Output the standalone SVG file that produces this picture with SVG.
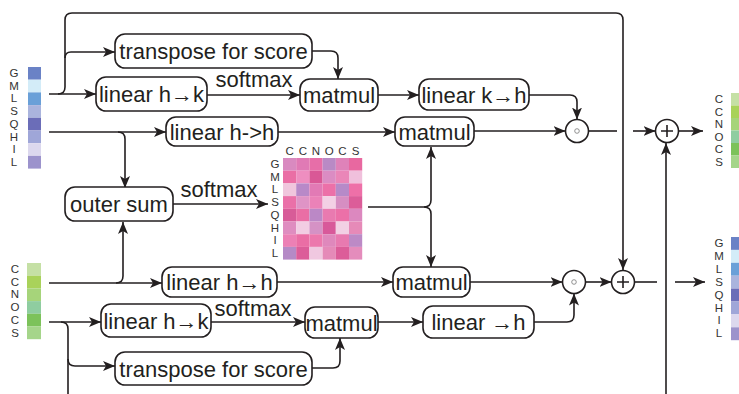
<svg xmlns="http://www.w3.org/2000/svg" width="739" height="394" viewBox="0 0 739 394">
<defs>
<marker id="ah" viewBox="0 0 12 10" refX="12" refY="5" markerWidth="12" markerHeight="10" markerUnits="userSpaceOnUse" orient="auto">
<path d="M0,0 L12,5 L0,10 L3,5 z" fill="#231f20"/>
</marker>
</defs>
<style>
.box{fill:#fff;stroke:#231f20;stroke-width:1.6}
.lbl{font-family:"Liberation Sans",Arial,sans-serif;font-size:22px;fill:#231f20;text-anchor:middle}
.sm{font-family:"Liberation Sans",Arial,sans-serif;font-size:11.5px;fill:#333;text-anchor:middle}
.ln{fill:none;stroke:#231f20;stroke-width:1.6}
.ar{fill:none;stroke:#231f20;stroke-width:1.6;marker-end:url(#ah)}
.op{fill:#fff;stroke:#231f20;stroke-width:1.6}
.dot{fill:none;stroke:#777;stroke-width:0.8}
</style>
<rect width="739" height="394" fill="#fff"/>

<!-- input bars -->
<g id="input-top">
<rect x="28" y="67" width="13" height="12.7" fill="#6a82c6"/>
<rect x="28" y="79.7" width="13" height="12.7" fill="#d3ecf8"/>
<rect x="28" y="92.4" width="13" height="12.7" fill="#6aa0d8"/>
<rect x="28" y="105.1" width="13" height="12.7" fill="#aab4dd"/>
<rect x="28" y="117.8" width="13" height="12.7" fill="#6b6db8"/>
<rect x="28" y="130.5" width="13" height="12.7" fill="#9fa6d8"/>
<rect x="28" y="143.2" width="13" height="12.7" fill="#dcd8ee"/>
<rect x="28" y="155.9" width="13" height="12.7" fill="#9c93cc"/>
<text class="sm" x="14" y="77">G</text>
<text class="sm" x="14" y="89.7">M</text>
<text class="sm" x="14" y="102.4">L</text>
<text class="sm" x="14" y="115.1">S</text>
<text class="sm" x="14" y="127.8">Q</text>
<text class="sm" x="14" y="140.5">H</text>
<text class="sm" x="14" y="153.2">I</text>
<text class="sm" x="14" y="165.9">L</text>
</g>
<g id="input-bottom">
<rect x="27" y="263" width="14" height="12.7" fill="#c5e0a5"/>
<rect x="27" y="275.7" width="14" height="12.7" fill="#a9d25a"/>
<rect x="27" y="288.4" width="14" height="12.7" fill="#a6d47a"/>
<rect x="27" y="301.1" width="14" height="12.7" fill="#8fcda0"/>
<rect x="27" y="313.8" width="14" height="12.7" fill="#7cc25a"/>
<rect x="27" y="326.5" width="14" height="12.7" fill="#a5d58a"/>
<text class="sm" x="15" y="273">C</text>
<text class="sm" x="15" y="285.7">C</text>
<text class="sm" x="15" y="298.4">N</text>
<text class="sm" x="15" y="311.1">O</text>
<text class="sm" x="15" y="323.8">C</text>
<text class="sm" x="15" y="336.5">S</text>
</g>

<!-- output bars -->
<g id="output-top">
<rect x="731" y="93" width="10" height="12.5" fill="#c5e0a5"/>
<rect x="731" y="105.5" width="10" height="12.5" fill="#a9d25a"/>
<rect x="731" y="118" width="10" height="12.5" fill="#a6d47a"/>
<rect x="731" y="130.5" width="10" height="12.5" fill="#8fcda0"/>
<rect x="731" y="143" width="10" height="12.5" fill="#7cc25a"/>
<rect x="731" y="155.5" width="10" height="12.5" fill="#a5d58a"/>
<text class="sm" x="719" y="103">C</text>
<text class="sm" x="719" y="115.5">C</text>
<text class="sm" x="719" y="128">N</text>
<text class="sm" x="719" y="140.5">O</text>
<text class="sm" x="719" y="153">C</text>
<text class="sm" x="719" y="165.5">S</text>
</g>
<g id="output-bottom">
<rect x="731" y="237" width="10" height="12.9" fill="#6a82c6"/>
<rect x="731" y="249.9" width="10" height="12.9" fill="#d3ecf8"/>
<rect x="731" y="262.8" width="10" height="12.9" fill="#6aa0d8"/>
<rect x="731" y="275.7" width="10" height="12.9" fill="#aab4dd"/>
<rect x="731" y="288.6" width="10" height="12.9" fill="#6b6db8"/>
<rect x="731" y="301.5" width="10" height="12.9" fill="#9fa6d8"/>
<rect x="731" y="314.4" width="10" height="12.9" fill="#dcd8ee"/>
<rect x="731" y="327.3" width="10" height="12.9" fill="#9c93cc"/>
<text class="sm" x="719" y="247">G</text>
<text class="sm" x="719" y="259.9">M</text>
<text class="sm" x="719" y="272.8">L</text>
<text class="sm" x="719" y="285.7">S</text>
<text class="sm" x="719" y="298.6">Q</text>
<text class="sm" x="719" y="311.5">H</text>
<text class="sm" x="719" y="324.4">I</text>
<text class="sm" x="719" y="337.3">L</text>
</g>

<!-- connectors -->
<g id="connectors">
<path class="ar" d="M49,94 H96"/>
<path class="ar" d="M58,94 Q65,94 65,87 V20 Q65,13 72,13 H616 Q623,13 623,20 V270"/>
<path class="ar" d="M65,58 Q65,52 71,52 H115"/>
<path class="ar" d="M312,51 H331 Q338,51 338,58 V79"/>
<path class="ar" d="M207,95 H300"/>
<path class="ar" d="M378,95 H419"/>
<path class="ar" d="M529,95 H570 Q577,95 577,102 V119.5"/>
<path class="ar" d="M49,132 H166"/>
<path class="ar" d="M118,132 Q125,132 125,139 V188"/>
<path class="ar" d="M278,132 H395"/>
<path class="ar" d="M474,131 H565.5"/>
<path class="ln" d="M588.5,131 H617"/>
<path class="ar" d="M633,131 H655.5"/>
<path class="ar" d="M678.5,131 H703"/>
<path class="ar" d="M666,394 V143"/>
<path class="ar" d="M173,204 H268"/>
<path class="ar" d="M368,207 H424 Q431,207 431,200 V147"/>
<path class="ar" d="M424,207 Q431,207 431,214 V267"/>
<path class="ar" d="M49,283 H162"/>
<path class="ar" d="M116,283 Q123,283 123,276 V222"/>
<path class="ar" d="M277,282 H393"/>
<path class="ar" d="M470,282 H562.5"/>
<path class="ar" d="M585.5,282 H611.5"/>
<path class="ln" d="M634.5,282 H657"/>
<path class="ar" d="M675,282 H705"/>
<path class="ar" d="M49,322 H101"/>
<path class="ln" d="M61,322 Q68,322 68,329 V394"/>
<path class="ar" d="M68,359 Q68,366 75,366 H115"/>
<path class="ar" d="M211,322 H305"/>
<path class="ar" d="M312,368 H333 Q340,368 340,361 V338"/>
<path class="ar" d="M378,322 H423"/>
<path class="ar" d="M534,322 H567 Q574,322 574,315 V293.5"/>
<text class="lbl" x="254" y="87">softmax</text>
<text class="lbl" x="219" y="197">softmax</text>
<text class="lbl" x="253" y="316">softmax</text>
</g>

<!-- nodes -->
<g id="transpose-top"><rect class="box" x="115" y="34" width="197" height="34" rx="10"/><text class="lbl" x="213.5" y="59">transpose for score</text></g>
<g id="linear-hk-top"><rect class="box" x="96" y="77" width="111" height="34" rx="10"/><text class="lbl" x="151.5" y="102">linear h→k</text></g>
<g id="matmul-top"><rect class="box" x="300" y="79" width="78" height="32" rx="10"/><text class="lbl" x="339" y="103">matmul</text></g>
<g id="linear-kh"><rect class="box" x="419" y="79" width="110" height="31" rx="10"/><text class="lbl" x="474" y="102.5">linear k→h</text></g>
<g id="linear-hh-top"><rect class="box" x="166" y="117" width="112" height="29" rx="10"/><text class="lbl" x="222" y="139.5">linear h-&gt;h</text></g>
<g id="matmul-mid-top"><rect class="box" x="395" y="117" width="79" height="29" rx="10"/><text class="lbl" x="434.5" y="139.5">matmul</text></g>
<g id="hadamard-top"><circle class="op" cx="577" cy="131" r="11.5"/><circle class="dot" cx="577" cy="131" r="2.3"/></g>
<g id="plus-top"><circle class="op" cx="667" cy="131" r="11.5"/><path class="ln" d="M661,131 H673 M667,125 V137"/></g>
<g id="outer-sum"><rect class="box" x="65" y="187" width="108" height="34" rx="10"/><text class="lbl" x="119" y="212">outer sum</text></g>

<g id="heatmap">
<text class="sm" x="289.6" y="155">C</text>
<text class="sm" x="302.8" y="155">C</text>
<text class="sm" x="316" y="155">N</text>
<text class="sm" x="329.2" y="155">O</text>
<text class="sm" x="342.4" y="155">C</text>
<text class="sm" x="355.6" y="155">S</text>
<text class="sm" x="275" y="168">G</text>
<text class="sm" x="275" y="180.7">M</text>
<text class="sm" x="275" y="193.4">L</text>
<text class="sm" x="275" y="206.1">S</text>
<text class="sm" x="275" y="218.8">Q</text>
<text class="sm" x="275" y="231.5">H</text>
<text class="sm" x="275" y="244.2">I</text>
<text class="sm" x="275" y="256.9">L</text>
<rect x="283" y="158" width="13.2" height="12.7" fill="#d98ac0"/><rect x="296.2" y="158" width="13.2" height="12.7" fill="#e07ab5"/><rect x="309.4" y="158" width="13.2" height="12.7" fill="#e76ea8"/><rect x="322.6" y="158" width="13.2" height="12.7" fill="#b98ac5"/><rect x="335.8" y="158" width="13.2" height="12.7" fill="#df82b9"/><rect x="349" y="158" width="13.2" height="12.7" fill="#e868a0"/>
<rect x="283" y="170.7" width="13.2" height="12.7" fill="#ea6ea5"/><rect x="296.2" y="170.7" width="13.2" height="12.7" fill="#ee8ec0"/><rect x="309.4" y="170.7" width="13.2" height="12.7" fill="#d95896"/><rect x="322.6" y="170.7" width="13.2" height="12.7" fill="#db8cc3"/><rect x="335.8" y="170.7" width="13.2" height="12.7" fill="#ea86b8"/><rect x="349" y="170.7" width="13.2" height="12.7" fill="#f0c0dc"/>
<rect x="283" y="183.4" width="13.2" height="12.7" fill="#f0c6dd"/><rect x="296.2" y="183.4" width="13.2" height="12.7" fill="#b889c8"/><rect x="309.4" y="183.4" width="13.2" height="12.7" fill="#e27ab5"/><rect x="322.6" y="183.4" width="13.2" height="12.7" fill="#ec70a8"/><rect x="335.8" y="183.4" width="13.2" height="12.7" fill="#b68ac8"/><rect x="349" y="183.4" width="13.2" height="12.7" fill="#ee70a8"/>
<rect x="283" y="196.1" width="13.2" height="12.7" fill="#ea70a8"/><rect x="296.2" y="196.1" width="13.2" height="12.7" fill="#df94c6"/><rect x="309.4" y="196.1" width="13.2" height="12.7" fill="#eb82b8"/><rect x="322.6" y="196.1" width="13.2" height="12.7" fill="#f3d0e5"/><rect x="335.8" y="196.1" width="13.2" height="12.7" fill="#d68ec2"/><rect x="349" y="196.1" width="13.2" height="12.7" fill="#dc5d99"/>
<rect x="283" y="208.8" width="13.2" height="12.7" fill="#d85c98"/><rect x="296.2" y="208.8" width="13.2" height="12.7" fill="#ea6ea5"/><rect x="309.4" y="208.8" width="13.2" height="12.7" fill="#bb88c6"/><rect x="322.6" y="208.8" width="13.2" height="12.7" fill="#e97ab0"/><rect x="335.8" y="208.8" width="13.2" height="12.7" fill="#ec70a8"/><rect x="349" y="208.8" width="13.2" height="12.7" fill="#dc88bf"/>
<rect x="283" y="221.5" width="13.2" height="12.7" fill="#df8dc0"/><rect x="296.2" y="221.5" width="13.2" height="12.7" fill="#f2cde3"/><rect x="309.4" y="221.5" width="13.2" height="12.7" fill="#d592c5"/><rect x="322.6" y="221.5" width="13.2" height="12.7" fill="#d8599a"/><rect x="335.8" y="221.5" width="13.2" height="12.7" fill="#f2d0e4"/><rect x="349" y="221.5" width="13.2" height="12.7" fill="#e68ab8"/>
<rect x="283" y="234.2" width="13.2" height="12.7" fill="#ec80b5"/><rect x="296.2" y="234.2" width="13.2" height="12.7" fill="#ea6ea5"/><rect x="309.4" y="234.2" width="13.2" height="12.7" fill="#ec78ad"/><rect x="322.6" y="234.2" width="13.2" height="12.7" fill="#df88bc"/><rect x="335.8" y="234.2" width="13.2" height="12.7" fill="#e87ab0"/><rect x="349" y="234.2" width="13.2" height="12.7" fill="#bc8ac6"/>
<rect x="283" y="246.9" width="13.2" height="12.7" fill="#b58ac6"/><rect x="296.2" y="246.9" width="13.2" height="12.7" fill="#dc5d99"/><rect x="309.4" y="246.9" width="13.2" height="12.7" fill="#f0c8e0"/><rect x="322.6" y="246.9" width="13.2" height="12.7" fill="#e58ab8"/><rect x="335.8" y="246.9" width="13.2" height="12.7" fill="#dc5d99"/><rect x="349" y="246.9" width="13.2" height="12.7" fill="#e48cbc"/>
</g>

<g id="linear-hh-bottom"><rect class="box" x="162" y="267" width="115" height="30" rx="10"/><text class="lbl" x="219.5" y="290">linear h→h</text></g>
<g id="matmul-mid-bottom"><rect class="box" x="393" y="267" width="77" height="30" rx="10"/><text class="lbl" x="431.5" y="290">matmul</text></g>
<g id="hadamard-bottom"><circle class="op" cx="574" cy="282" r="11.5"/><circle class="dot" cx="574" cy="282" r="2.3"/></g>
<g id="plus-bottom"><circle class="op" cx="623" cy="282" r="11.5"/><path class="ln" d="M617,282 H629 M623,276 V288"/></g>
<g id="linear-hk-bottom"><rect class="box" x="101" y="304" width="110" height="33" rx="10"/><text class="lbl" x="156" y="328.5">linear h→k</text></g>
<g id="matmul-bottom"><rect class="box" x="305" y="307" width="73" height="31" rx="10"/><text class="lbl" x="341.5" y="330.5">matmul</text></g>
<g id="linear-h"><rect class="box" x="423" y="306" width="111" height="32" rx="10"/><text class="lbl" x="478.5" y="330">linear →h</text></g>
<g id="transpose-bottom"><rect class="box" x="115" y="352" width="197" height="33" rx="10"/><text class="lbl" x="213.5" y="376.5">transpose for score</text></g>
</svg>
